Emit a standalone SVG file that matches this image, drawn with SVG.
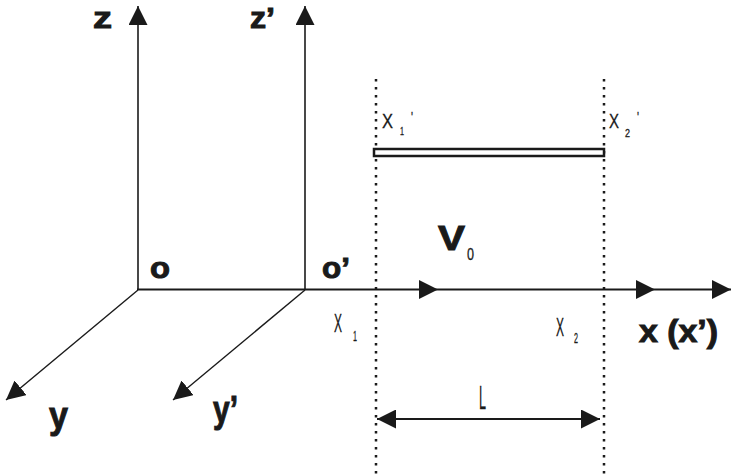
<svg xmlns="http://www.w3.org/2000/svg" width="737" height="474" viewBox="0 0 737 474">
<style>
.ax{stroke:#1a1a1a;fill:none;stroke-linecap:butt}
.dot{stroke:#1a1a1a;stroke-width:2.5;stroke-dasharray:2.5 5.5;fill:none}
.b{font-family:"Liberation Sans",Arial,sans-serif;font-weight:bold;fill:#1a1a1a;stroke:#1a1a1a;stroke-width:1}
.t{font-family:"Liberation Sans Narrow","Liberation Sans",Arial,sans-serif;font-weight:normal;fill:#1a1a1a;stroke:#1a1a1a;stroke-width:0.3}
</style>
<defs>
<marker id="ah" markerUnits="userSpaceOnUse" markerWidth="19" markerHeight="19" viewBox="0 0 19 19" refX="19" refY="9.5" orient="auto-start-reverse">
<path d="M0,0 L19,9.5 L0,19 z" fill="#1a1a1a"/>
</marker>
</defs>
<rect width="737" height="474" fill="#fff"/>
<g id="connectors">
<line class="ax" x1="138" y1="290" x2="138" y2="6" stroke-width="1.6" marker-end="url(#ah)"/>
<line class="ax" x1="305" y1="290" x2="305" y2="6" stroke-width="1.6" marker-end="url(#ah)"/>
<line class="ax" x1="137" y1="289.5" x2="438" y2="289.5" stroke-width="2.2" marker-end="url(#ah)"/>
<line class="ax" x1="438" y1="289.5" x2="655" y2="289.5" stroke-width="2.2" marker-end="url(#ah)"/>
<line class="ax" x1="655" y1="289.5" x2="731" y2="289.5" stroke-width="2.2" marker-end="url(#ah)"/>
<line class="ax" x1="138" y1="290" x2="6" y2="400" stroke-width="1.4" marker-end="url(#ah)"/>
<line class="ax" x1="305" y1="290" x2="173" y2="400" stroke-width="1.4" marker-end="url(#ah)"/>
<line class="dot" x1="376" y1="79" x2="376" y2="474"/>
<line class="dot" x1="604" y1="79" x2="604" y2="474"/>
<line class="ax" x1="377" y1="419" x2="600" y2="419" stroke-width="2.2" marker-start="url(#ah)" marker-end="url(#ah)"/>
</g>
<g id="rod">
<rect x="374" y="149" width="230" height="7" fill="#fff" stroke="#1a1a1a" stroke-width="2.5"/>
</g>
<g id="labels">
<text class="b" x="93" y="28" font-size="29" textLength="19" lengthAdjust="spacingAndGlyphs">z</text>
<text class="b" x="250" y="28" font-size="29" textLength="25" lengthAdjust="spacingAndGlyphs">z’</text>
<text class="b" x="150" y="278" font-size="30" textLength="20" lengthAdjust="spacingAndGlyphs">o</text>
<text class="b" x="322" y="278" font-size="30" textLength="28" lengthAdjust="spacingAndGlyphs">o’</text>
<text class="b" x="49" y="428" font-size="37" textLength="19" lengthAdjust="spacingAndGlyphs">y</text>
<text class="b" x="213" y="422" font-size="37" textLength="25" lengthAdjust="spacingAndGlyphs">y’</text>
<text class="b" x="438" y="250" font-size="35" textLength="27" lengthAdjust="spacingAndGlyphs" stroke-width="1.5">V</text>
<text class="t" x="467" y="260" font-size="17" textLength="7" lengthAdjust="spacingAndGlyphs" font-weight="bold" stroke-width="0.9">0</text>
<text class="b" x="639" y="342" font-size="31" textLength="79" lengthAdjust="spacingAndGlyphs">x (x’)</text>
<text class="t" x="382" y="128" font-size="21" textLength="11" lengthAdjust="spacingAndGlyphs">X</text>
<text class="t" x="400" y="135" font-size="11" textLength="4" lengthAdjust="spacingAndGlyphs">1</text>
<text class="t" x="411" y="122" font-size="14" textLength="2" lengthAdjust="spacingAndGlyphs">'</text>
<text class="t" x="609" y="128" font-size="21" textLength="10" lengthAdjust="spacingAndGlyphs">X</text>
<text class="t" x="625" y="137" font-size="11" textLength="5" lengthAdjust="spacingAndGlyphs">2</text>
<text class="t" x="637" y="122" font-size="14" textLength="2" lengthAdjust="spacingAndGlyphs">'</text>
<text class="t" x="334" y="332" font-size="26" textLength="8" lengthAdjust="spacingAndGlyphs">X</text>
<text class="t" x="353" y="341" font-size="15" textLength="4" lengthAdjust="spacingAndGlyphs">1</text>
<text class="t" x="556" y="336" font-size="26" textLength="8" lengthAdjust="spacingAndGlyphs">X</text>
<text class="t" x="574" y="343" font-size="15" textLength="4" lengthAdjust="spacingAndGlyphs">2</text>
<text class="t" x="479" y="409" font-size="33" textLength="7" lengthAdjust="spacingAndGlyphs">L</text>
</g>
</svg>
